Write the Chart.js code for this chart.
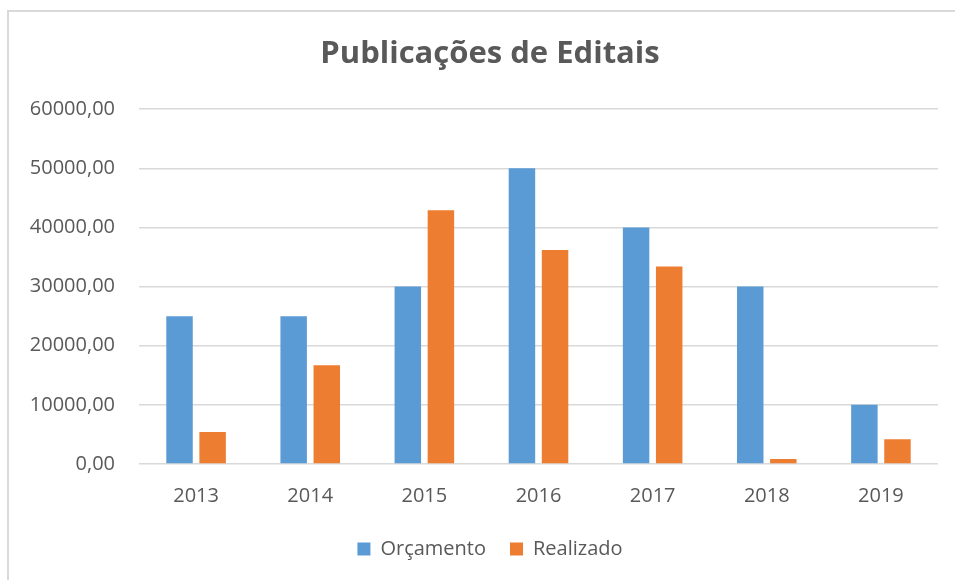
<!DOCTYPE html>
<html>
<head>
<meta charset="utf-8">
<script src="https://cdn.jsdelivr.net/npm/chart.js@4"></script>
<style>
  html, body { margin: 0; padding: 0; background: #fff; }
  #wrap { position: relative; width: 955px; height: 580px; }
  #border { position: absolute; left: 7px; top: 10px; width: 948px; height: 570px;
            border-top: 2px solid #D9D9D9; border-left: 2px solid #D9D9D9; box-sizing: border-box; pointer-events: none; }
  canvas { position: absolute; left: 0; top: 0; }
</style>
</head>
<body>
<div id="wrap">
  <canvas id="c" width="955" height="580"></canvas>
  <div id="border"></div>
</div>
<script>
const categories = ["2013", "2014", "2015", "2016", "2017", "2018", "2019"];
const orcamento = [25000, 25000, 30000, 50000, 40000, 30000, 10000];
const realizado = [5400, 16700, 42900, 36200, 33400, 850, 4200];
const yTicks = [0, 10000, 20000, 30000, 40000, 50000, 60000];

const FONT = "'Open Sans', 'Noto Sans', sans-serif";
const TEXT = "#595959";

// shift title and legend so that they are centred like in the original
const shiftBlocks = {
  id: 'shiftBlocks',
  afterLayout(chart) {
    [chart.titleBlock, chart.legend].forEach(b => {
      if (!b) return;
      b.left = 42;
      b.width = b.right - b.left;
    });
  }
};

new Chart(document.getElementById('c'), {
  type: 'bar',
  data: {
    labels: categories,
    datasets: [
      { label: 'Orçamento', data: orcamento, backgroundColor: '#5B9BD5', borderWidth: 0 },
      { label: 'Realizado', data: realizado, backgroundColor: '#ED7D31', borderWidth: 0 }
    ]
  },
  plugins: [shiftBlocks],
  options: {
    responsive: false,
    animation: false,
    devicePixelRatio: 1,
    layout: { padding: { left: 0, right: 17, top: 0, bottom: 11 } },
    datasets: { bar: { barPercentage: 0.8, categoryPercentage: 0.58 } },
    plugins: {
      title: {
        display: true, text: 'Publicações de Editais', color: TEXT,
        font: { family: FONT, size: 31, weight: 'bold' },
        padding: { top: 36, bottom: 36 }
      },
      legend: {
        position: 'bottom',
        labels: { color: TEXT, font: { family: FONT, size: 20 }, boxWidth: 13, boxHeight: 13, padding: 24 }
      },
      tooltip: { enabled: false }
    },
    scales: {
      x: {
        grid: { display: false },
        border: { display: false },
        ticks: { color: TEXT, font: { family: FONT, size: 20 }, padding: 12 },
        afterFit: (s) => { s.height = 51; }
      },
      y: {
        min: 0, max: 60000,
        afterBuildTicks: (s) => { s.ticks = yTicks.map(v => ({ value: v })); },
        grid: { color: '#D9D9D9', lineWidth: 1.5, drawTicks: false },
        border: { display: false },
        ticks: {
          color: TEXT, font: { family: FONT, size: 20 }, padding: 24,
          callback: (v) => Number(v).toFixed(2).replace('.', ',')
        },
        afterFit: (s) => { s.width = 139; }
      }
    }
  }
});
</script>
</body>
</html>
